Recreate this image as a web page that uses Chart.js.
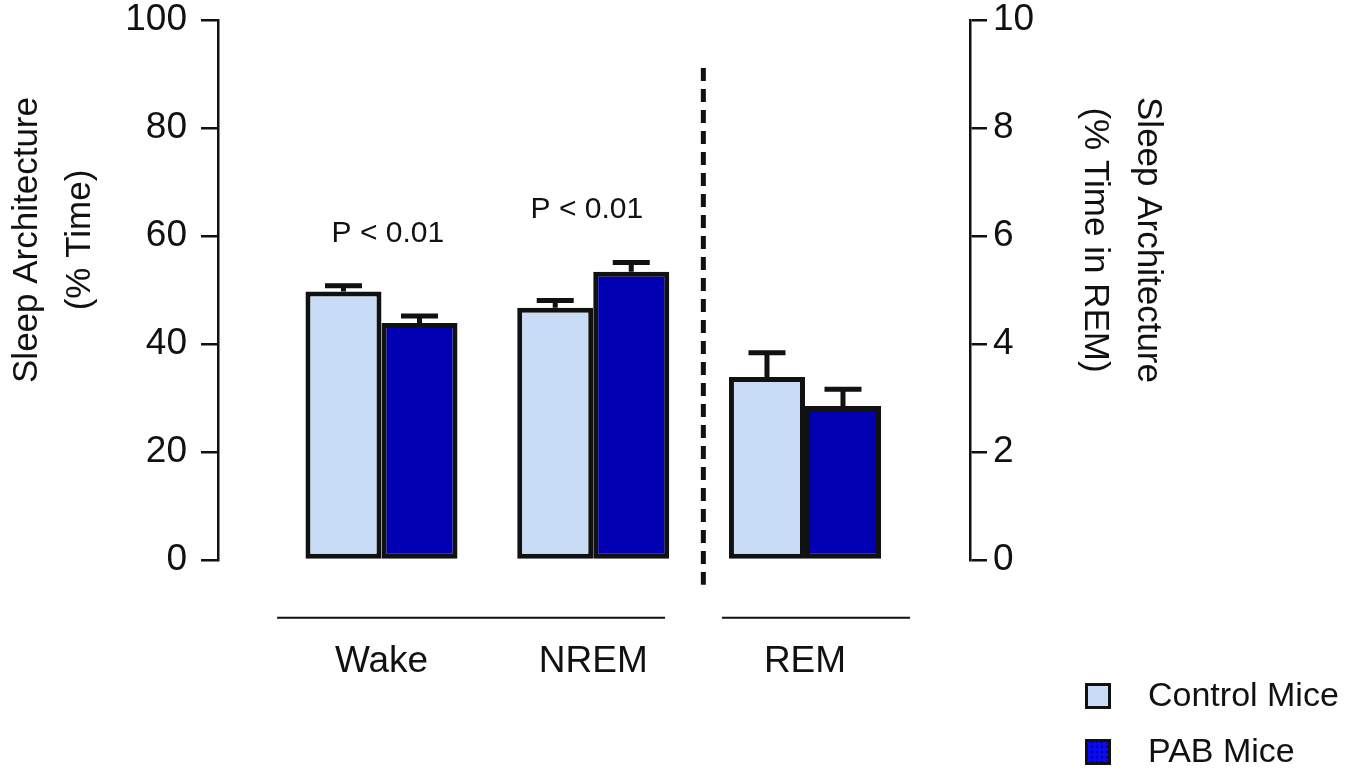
<!DOCTYPE html>
<html><head><meta charset="utf-8">
<script src="https://cdn.jsdelivr.net/npm/chart.js@4.4.1/dist/chart.umd.min.js"></script>
<style>html,body{margin:0;padding:0;background:#fff;} #wrap{width:1356px;height:781px;position:relative;}</style>
</head><body><div id="wrap"><canvas id="c" width="1356" height="781"></canvas></div>
<script>
// ---- data ----
const categories = ['Wake', 'NREM', 'REM'];
const seriesNames = ['Control Mice', 'PAB Mice'];
// Wake, NREM on left axis (% time)
const controlPct = [49.7, 46.7];
const controlPctErr = [1.1, 1.35];
const pabPct = [43.9, 53.4];
const pabPctErr = [1.3, 1.7];
// REM on right axis (% time in REM)
const controlRem = [3.39];
const controlRemErr = [0.45];
const pabRem = [2.85];
const pabRemErr = [0.31];
const leftTicks = [0, 20, 40, 60, 80, 100];
const rightTicks = [0, 2, 4, 6, 8, 10];
const leftTitle = ['Sleep Architecture', '(% Time)'];
const rightTitle = ['Sleep Architecture', '(% Time in REM)'];
const pLabels = [{x: 0.03, y: 60.4, text: 'P < 0.01'}, {x: 0.97, y: 64.8, text: 'P < 0.01'}];

// ---- styles ----
const FONT = "'Liberation Sans', Arial, Helvetica, sans-serif";
const INK = '#111111';
const CTRL = '#C8DCF5';
const PAB = '#0000B2';
const remIndex = categories.indexOf('REM');

const common = {borderColor: INK, borderWidth: 5, borderSkipped: false,
  categoryPercentage: 0.718, barPercentage: 1.0};

const datasets = [
  Object.assign({label: seriesNames[0], data: controlPct.map((v, i) => ({x: i, y: v})), err: controlPctErr,
    yAxisID: 'y', stack: 'c', backgroundColor: CTRL}, common),
  Object.assign({label: seriesNames[1], data: pabPct.map((v, i) => ({x: i, y: v})), err: pabPctErr,
    yAxisID: 'y', stack: 'p', backgroundColor: PAB}, common),
  Object.assign({label: seriesNames[0], data: controlRem.map((v, i) => ({x: remIndex + i, y: v})), err: controlRemErr,
    yAxisID: 'y2', stack: 'c', backgroundColor: CTRL}, common),
  Object.assign({label: seriesNames[1], data: pabRem.map((v, i) => ({x: remIndex + i, y: v})), err: pabRemErr,
    yAxisID: 'y2', stack: 'p', backgroundColor: PAB}, common)
];

const errorBars = {
  id: 'errorBars',
  afterDatasetsDraw(chart) {
    const ctx = chart.ctx;
    ctx.save();
    ctx.strokeStyle = INK;
    ctx.lineWidth = 5;
    ctx.lineCap = 'butt';
    chart.data.datasets.forEach((ds, di) => {
      const meta = chart.getDatasetMeta(di);
      const ys = chart.scales[ds.yAxisID];
      meta.data.forEach((bar, i) => {
        const top = ys.getPixelForValue(ds.data[i].y + ds.err[i]);
        ctx.beginPath();
        ctx.moveTo(bar.x, bar.y);
        ctx.lineTo(bar.x, top);
        ctx.moveTo(bar.x - 18.5, top);
        ctx.lineTo(bar.x + 18.5, top);
        ctx.stroke();
      });
    });
    ctx.restore();
  }
};

function makeDots() {
  const c = document.createElement('canvas');
  c.width = 5; c.height = 5;
  const g = c.getContext('2d');
  g.fillStyle = '#0a0af0'; g.fillRect(0, 0, 5, 5);
  g.fillStyle = '#00009a'; g.fillRect(1, 1, 2, 2);
  return c;
}

const decorations = {
  id: 'decorations',
  afterDraw(chart) {
    const ctx = chart.ctx;
    const xs = chart.scales.x, ys = chart.scales.y;
    ctx.save();
    // dashed separator between NREM and REM
    ctx.strokeStyle = INK;
    ctx.lineWidth = 5;
    ctx.setLineDash([13, 8]);
    ctx.beginPath();
    const dx = xs.getPixelForValue(1.52);
    ctx.moveTo(dx, ys.getPixelForValue(91.1));
    ctx.lineTo(dx, ys.getPixelForValue(-4.6));
    ctx.stroke();
    ctx.setLineDash([]);
    // group underlines
    ctx.lineWidth = 2;
    const gy = ys.getPixelForValue(-10.7);
    [[-0.493, 1.339], [1.608, 2.496]].forEach(([a, b]) => {
      ctx.beginPath();
      ctx.moveTo(xs.getPixelForValue(a), gy);
      ctx.lineTo(xs.getPixelForValue(b), gy);
      ctx.stroke();
    });
    // P labels
    ctx.fillStyle = INK;
    ctx.font = '30px ' + FONT;
    ctx.textAlign = 'center';
    ctx.textBaseline = 'middle';
    pLabels.forEach(p => ctx.fillText(p.text, xs.getPixelForValue(p.x), ys.getPixelForValue(p.y)));
    // axis titles
    ctx.font = '35px ' + FONT;
    ctx.textBaseline = 'alphabetic';
    const cy = 240;
    leftTitle.forEach((t, i) => {
      ctx.save();
      ctx.translate(37 + i * 53, cy);
      ctx.rotate(-Math.PI / 2);
      ctx.fillText(t, 0, 0);
      ctx.restore();
    });
    rightTitle.forEach((t, i) => {
      ctx.save();
      ctx.translate(1138 - i * 53, cy);
      ctx.rotate(Math.PI / 2);
      ctx.fillText(t, 0, 0);
      ctx.restore();
    });
    // legend
    const dots = ctx.createPattern(makeDots(), 'repeat');
    const fills = [CTRL, dots];
    const tops = [683, 739];
    ctx.font = '34px ' + FONT;
    ctx.textAlign = 'left';
    ctx.textBaseline = 'middle';
    seriesNames.forEach((name, i) => {
      ctx.fillStyle = fills[i];
      ctx.fillRect(1085, tops[i], 26, 26);
      ctx.strokeStyle = INK;
      ctx.lineWidth = 3;
      ctx.strokeRect(1086.5, tops[i] + 1.5, 23, 23);
      ctx.fillStyle = INK;
      ctx.fillText(name, 1148, tops[i] + 14);
    });
    ctx.restore();
  }
};

const tickFont = {family: FONT, size: 37, lineHeight: 1.0};
const yGrid = {display: true, drawOnChartArea: false, drawTicks: true, tickLength: 17, color: INK, lineWidth: 2.5};
const yBorder = {display: true, color: INK, width: 2.5};
const fitY = (w) => (axis) => { axis.width = w; axis.paddingTop = 0; axis.paddingBottom = 0; };

new Chart(document.getElementById('c'), {
  type: 'bar',
  data: {datasets},
  options: {
    responsive: false,
    animation: false,
    devicePixelRatio: 1,
    layout: {padding: {top: 20, left: 0, right: 0, bottom: 0}},
    plugins: {legend: {display: false}, tooltip: {enabled: false}},
    scales: {
      x: {
        type: 'linear', min: -0.7721, max: 2.7793, offset: false,
        grid: {display: false, offset: false}, border: {display: false},
        afterBuildTicks: (axis) => { axis.ticks = categories.map((_, i) => ({value: i})); },
        afterFit: (axis) => { axis.height = 221; axis.paddingLeft = 0; axis.paddingRight = 0; },
        ticks: {font: tickFont, color: INK, padding: 75, maxRotation: 0, autoSkip: false,
          callback: (v) => categories[v]}
      },
      y: {
        type: 'linear', position: 'left', min: 0, max: 100, stacked: false,
        afterBuildTicks: (axis) => { axis.ticks = leftTicks.map(v => ({value: v})); },
        afterFit: fitY(218),
        grid: yGrid, border: yBorder,
        ticks: {font: tickFont, color: INK, padding: 14}
      },
      y2: {
        type: 'linear', position: 'right', min: 0, max: 10, stacked: false,
        afterBuildTicks: (axis) => { axis.ticks = rightTicks.map(v => ({value: v})); },
        afterFit: fitY(386),
        grid: yGrid, border: yBorder,
        ticks: {font: tickFont, color: INK, padding: 6}
      }
    }
  },
  plugins: [errorBars, decorations]
});
</script>
</body></html>
